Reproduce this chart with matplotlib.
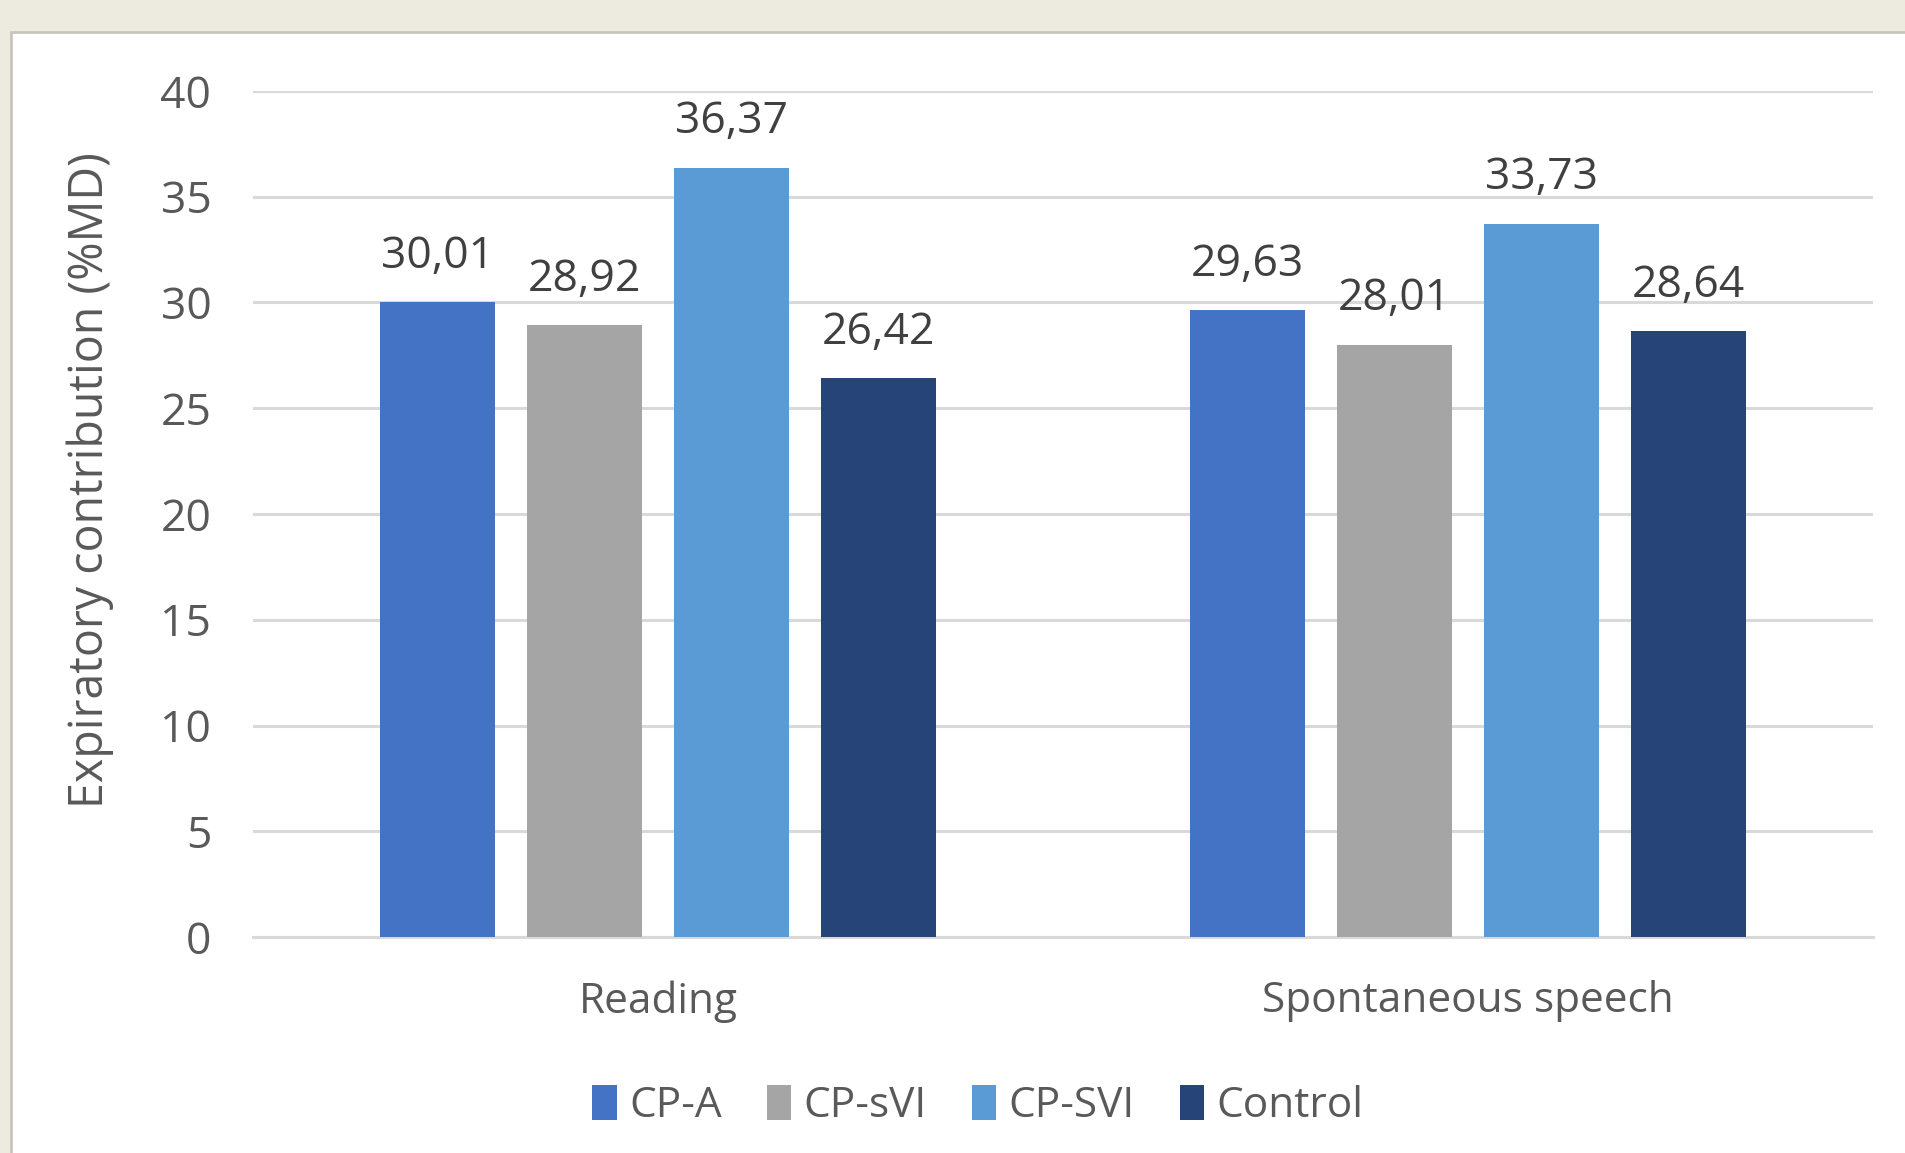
import numpy as np
import matplotlib.pyplot as plt
from matplotlib.patches import Rectangle

plt.rcParams['font.family'] = ['Open Sans', 'DejaVu Sans']

# Data
tasks = ["Reading", "Spontaneous speech"]
groups = ["CP-A", "CP-sVI", "CP-SVI", "Control"]
values = {
    "CP-A": [30.01, 29.63],
    "CP-sVI": [28.92, 28.01],
    "CP-SVI": [36.37, 33.73],
    "Control": [26.42, 28.64],
}
colors = ["#4472C4", "#A5A5A5", "#5B9BD5", "#264478"]
yticks = [0, 5, 10, 15, 20, 25, 30, 35, 40]

txt = "#595959"

fig = plt.figure(figsize=(19.06, 11.53), dpi=100)
fig.patch.set_facecolor("#EDEBE0")
# white chart panel on the beige page
fig.patches.append(Rectangle((11 / 1906, -0.01), 1, 1.01 - 32 / 1153, transform=fig.transFigure,
                             facecolor="white", edgecolor="#C8C6BC", linewidth=2, zorder=-5))

ax = fig.add_axes([253 / 1906, 1 - 937 / 1153, 1620 / 1906, (937 - 91) / 1153])
ax.set_zorder(2)
ax.set_facecolor("none")

x = np.arange(len(tasks))
width = 0.143
pitch = 0.1815
for i, g in enumerate(groups):
    pos = x + (i - 1.5) * pitch
    bars = ax.bar(pos, values[g], width, color=colors[i], label=g, zorder=3)
    for b, v in zip(bars, values[g]):
        ax.annotate(f"{v:.2f}".replace(".", ","), (b.get_x() + b.get_width() / 2, v),
                    xytext=(0, 17), textcoords="offset points", ha="center", va="bottom",
                    fontsize=32, color="#404040")

ax.set_xlim(-0.5, 1.5)
ax.set_ylim(0, 40)
ax.set_yticks(yticks)
ax.set_xticks(x)
ax.set_xticklabels(tasks)
ax.grid(axis="y", color="#D9D9D9", linewidth=2.2, zorder=0)
ax.tick_params(axis="y", length=0, pad=30, labelsize=32, labelcolor=txt)
ax.tick_params(axis="x", length=0, pad=31, labelsize=30.5, labelcolor=txt)
for s in ["top", "right", "left"]:
    ax.spines[s].set_visible(False)
ax.spines["bottom"].set_color("#D9D9D9")
ax.spines["bottom"].set_linewidth(2.2)
ax.set_ylabel("Expiratory contribution (%MD)", fontsize=33.5, color=txt)
ax.yaxis.set_label_coords(-0.086, 0.54)

leg = fig.legend(loc="center", bbox_to_anchor=(978 / 1906, 1 - 1106 / 1153), ncol=4, frameon=False,
                 fontsize=30.5, labelcolor=txt, handlelength=0.58, handleheight=0.9,
                 handletextpad=0.3, columnspacing=1.05)
leg.set_zorder(3)

fig.savefig("out.png", dpi=100, facecolor=fig.get_facecolor())
